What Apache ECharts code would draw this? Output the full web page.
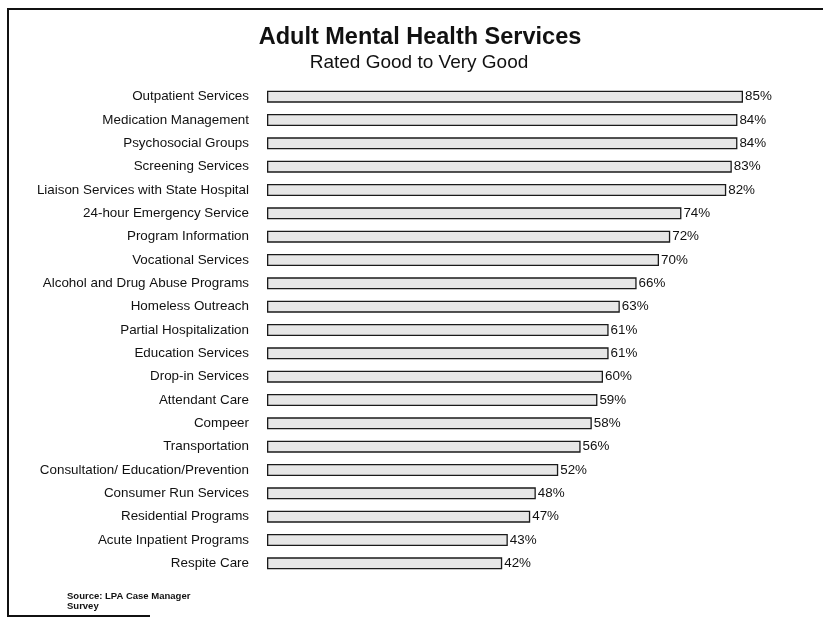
<!DOCTYPE html>
<html>
<head>
<meta charset="utf-8">
<script src="https://cdn.jsdelivr.net/npm/echarts@6/dist/echarts.min.js"></script>
<style>
  html, body { margin: 0; padding: 0; background: #fff; }
  #chart { width: 823px; height: 619px; }
</style>
</head>
<body>
<div id="chart"></div>
<script>
const services = [
  'Outpatient Services',
  'Medication Management',
  'Psychosocial Groups',
  'Screening Services',
  'Liaison Services with State Hospital',
  '24-hour Emergency Service',
  'Program Information',
  'Vocational Services',
  'Alcohol and Drug Abuse Programs',
  'Homeless Outreach',
  'Partial Hospitalization',
  'Education Services',
  'Drop-in Services',
  'Attendant Care',
  'Compeer',
  'Transportation',
  'Consultation/ Education/Prevention',
  'Consumer Run Services',
  'Residential Programs',
  'Acute Inpatient Programs',
  'Respite Care'
];

const ratedGood = [85, 84, 84, 83, 82, 74, 72, 70, 66, 63, 61, 61, 60, 59, 58, 56, 52, 48, 47, 43, 42];

const chart = echarts.init(document.getElementById('chart'));

chart.setOption({
  backgroundColor: '#fff',
  textStyle: { fontFamily: 'Liberation Sans, Arial, sans-serif' },
  title: [{
    text: 'Adult Mental Health Services',
    left: 420,
    top: 26,
    padding: 0,
    textAlign: 'center',
    textStyle: { fontSize: 23.5, fontWeight: 'bold', color: '#111' }
  }, {
    text: 'Rated Good to Very Good',
    left: 419,
    top: 53,
    padding: 0,
    textAlign: 'center',
    textStyle: { fontSize: 19, fontWeight: 'normal', color: '#111' }
  }, {
    text: 'Source: LPA Case Manager\nSurvey',
    left: 67,
    top: 591,
    padding: 0,
    textStyle: { fontSize: 9.5, fontWeight: 'bold', color: '#111', lineHeight: 10 }
  }],
  grid: {
    left: 267,
    right: 52,
    top: 85,
    bottom: 44
  },
  xAxis: {
    type: 'value',
    min: 0,
    max: 90,
    show: false
  },
  yAxis: {
    type: 'category',
    inverse: true,
    data: services,
    axisLine: { show: false },
    axisTick: { show: false },
    axisLabel: {
      margin: 18,
      fontSize: 13.4,
      color: '#111'
    }
  },
  series: [{
    type: 'bar',
    data: ratedGood,
    barWidth: 12,
    itemStyle: {
      color: '#e6e6e6',
      borderColor: '#1a1a1a',
      borderWidth: 1.3
    },
    label: {
      show: true,
      position: 'right',
      distance: 2,
      formatter: '{c}%',
      fontSize: 13.4,
      color: '#111'
    }
  }],
  graphic: [{
    type: 'polyline',
    shape: { points: [[823, 9], [8, 9], [8, 616], [150, 616]] },
    style: { stroke: '#111', lineWidth: 2, fill: null }
  }]
});
</script>
</body>
</html>
